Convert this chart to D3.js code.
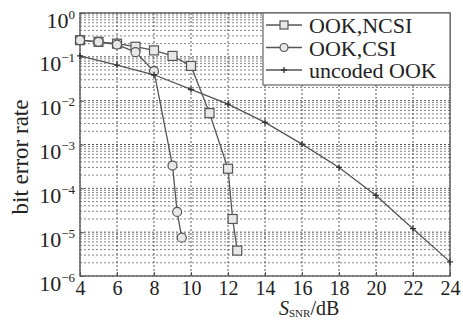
<!DOCTYPE html>
<html><head><meta charset="utf-8">
<script src="https://cdn.jsdelivr.net/npm/d3@7"></script>
<style>body{margin:0;background:#fff}svg{display:block}</style>
</head><body><svg id="c" width="463" height="320"></svg>
<script>
const seriesNames = ["OOK,NCSI", "OOK,CSI", "uncoded OOK"];
const ncsiX = [4,5,6,7,8,9,10,11,12,12.25,12.5];
const ncsiY = [0.24,0.22,0.2,0.17,0.14,0.105,0.062,5.2e-3,2.8e-4,2e-5,3.8e-6];
const csiX = [4,5,6,7,8,9,9.25,9.5];
const csiY = [0.24,0.22,0.19,0.128,0.047,3.3e-4,2.9e-5,7.5e-6];
const uncX = [4,6,8,10,12,14,16,18,20,22,24];
const uncY = [0.105,0.065,0.039,0.018,8.3e-3,3.2e-3,1.02e-3,3e-4,6.9e-5,1.2e-5,2.1e-6];
const xTicks = [4,6,8,10,12,14,16,18,20,22,24];
const yExps = [0,-1,-2,-3,-4,-5,-6];

const svg = d3.select("#c");
const L=80,R=450,T=13,B=276;
const x = d3.scaleLinear().domain([4,24]).range([L,R]);
const y = d3.scaleLog().domain([1e-6,1]).range([B,T]);
const col="#555";
const font="'Liberation Serif','Times New Roman',serif";

// grid
const g=svg.append("g");
for(let e=-6;e<0;e++){
  for(let m=2;m<=9;m++){
    g.append("line").attr("x1",L).attr("x2",R).attr("y1",y(m*Math.pow(10,e))).attr("y2",y(m*Math.pow(10,e)))
     .attr("stroke","#666").attr("stroke-width",0.8).attr("stroke-dasharray","2,2");
  }
}
yExps.forEach(e=>{
  g.append("line").attr("x1",L).attr("x2",R).attr("y1",y(Math.pow(10,e))).attr("y2",y(Math.pow(10,e)))
   .attr("stroke","#555").attr("stroke-width",1).attr("stroke-dasharray","2,2");
});
xTicks.forEach(v=>{
  g.append("line").attr("x1",x(v)).attr("x2",x(v)).attr("y1",T).attr("y2",B)
   .attr("stroke","#555").attr("stroke-width",1).attr("stroke-dasharray","2,2");
});

// frame
svg.append("rect").attr("x",L).attr("y",T).attr("width",R-L).attr("height",B-T)
  .attr("fill","none").attr("stroke","#666").attr("stroke-width",1.5);

// axes via d3 (inward ticks)
const xAxis = svg.append("g").attr("transform",`translate(0,${B})`)
  .call(d3.axisBottom(x).tickValues(xTicks).tickSize(-4).tickPadding(0).tickFormat(d3.format("d")));
xAxis.select(".domain").remove();
xAxis.selectAll("line").attr("stroke","#555");
xAxis.selectAll("text").attr("font-family",font).attr("font-size",20).attr("fill","#222")
  .attr("y",0).attr("dy","19px");

const yAxis = svg.append("g").attr("transform",`translate(${L},0)`)
  .call(d3.axisLeft(y).tickValues(yExps.map(e=>Math.pow(10,e))).tickSize(-4).tickFormat(""));
yAxis.select(".domain").remove();
yAxis.selectAll("line").attr("stroke","#555");
yAxis.selectAll(".tick").each(function(d){
  const e=Math.round(Math.log10(d));
  const t=d3.select(this).append("text").attr("x",-5).attr("y",14).attr("text-anchor","end")
    .attr("font-family",font).attr("fill","#222");
  t.append("tspan").attr("font-size",22).text("10");
  t.append("tspan").attr("font-size",13).attr("dy","-9").text(e===0?"0":"\u2212"+(-e));
});

// axis labels
svg.append("text").attr("transform","translate(28,157) rotate(-90)").attr("text-anchor","middle")
  .attr("font-family",font).attr("font-size",23).attr("fill","#222").text("bit error rate");
const xl=svg.append("text").attr("x",279).attr("y",315).attr("font-family",font).attr("font-size",20).attr("fill","#222");
xl.append("tspan").attr("font-style","italic").text("S");
xl.append("tspan").attr("font-size",11).attr("dy",2).text("SNR");
xl.append("tspan").attr("dy",-2).text("/dB");

// series
const line=d3.line().x(d=>x(d[0])).y(d=>y(d[1]));
const mk=(xs,ys)=>xs.map((v,i)=>[v,ys[i]]);
const series=[
  {name:seriesNames[0],data:mk(ncsiX,ncsiY),shape:"square"},
  {name:seriesNames[1],data:mk(csiX,csiY),shape:"circle"},
  {name:seriesNames[2],data:mk(uncX,uncY),shape:"plus"}
];
function marker(sel,shape,cx,cy,s){
  s=s||4.5;
  if(shape==="square") sel.append("rect").attr("x",cx-s).attr("y",cy-s).attr("width",2*s).attr("height",2*s)
    .attr("fill","#e8e8e8").attr("stroke",col).attr("stroke-width",1.2);
  else if(shape==="circle") sel.append("circle").attr("cx",cx).attr("cy",cy).attr("r",s)
    .attr("fill","#e8e8e8").attr("stroke",col).attr("stroke-width",1.2);
  else sel.append("path").attr("d",`M${cx-3},${cy}H${cx+3}M${cx},${cy-3}V${cy+3}`).attr("stroke","#333").attr("stroke-width",1.3);
}
series.forEach(s=>{
  svg.append("path").datum(s.data).attr("d",line).attr("fill","none").attr("stroke",col).attr("stroke-width",1.3);
  const mg=svg.append("g");
  s.data.forEach(d=>marker(mg,s.shape,x(d[0]),y(d[1])));
});

// legend
const lg=svg.append("g");
lg.append("rect").attr("x",263).attr("y",T).attr("width",R-263).attr("height",72).attr("fill","#fff").attr("stroke","#666").attr("stroke-width",1.2);
series.forEach((s,i)=>{
  const yy=25+i*22.5;
  lg.append("line").attr("x1",266).attr("x2",302).attr("y1",yy).attr("y2",yy).attr("stroke",col).attr("stroke-width",1.3);
  marker(lg,s.shape,284,yy,4);
  lg.append("text").attr("x",309).attr("y",yy+8).attr("font-family",font).attr("font-size",22).attr("fill","#222").text(s.name);
});
</script></body></html>
